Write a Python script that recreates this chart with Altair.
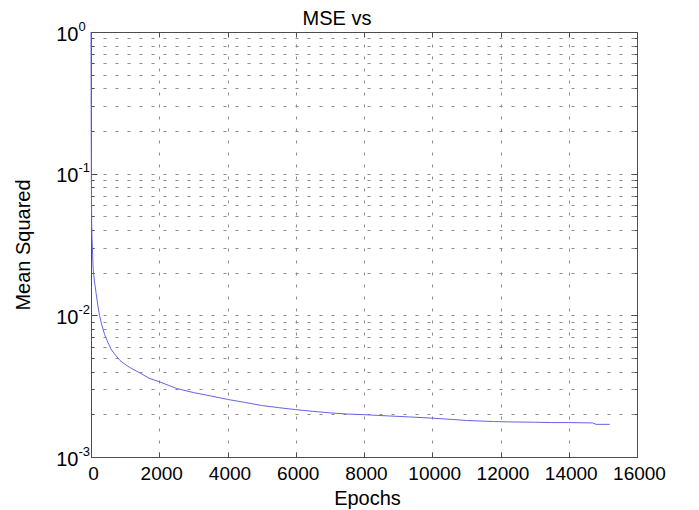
import altair as alt
import pandas as pd

# ---- data ----
epochs = [0, 3, 6, 10, 15, 20, 30, 45, 65, 100, 150, 200, 250, 320, 400, 500, 600, 700,
          850, 1000, 1200, 1450, 1700, 2000, 2500, 3000, 3500, 4000, 4500, 5000, 5500,
          6000, 6500, 7000, 7500, 8000, 8700, 9300, 10000, 10600, 11000, 11800, 12200,
          13000, 13500, 14000, 14700, 14800, 15200]
mse = [1.0, 0.45, 0.2, 0.1, 0.065, 0.045, 0.035, 0.028, 0.021, 0.0175, 0.0143, 0.0118,
       0.0100, 0.0085, 0.0073, 0.0064, 0.0057, 0.0053, 0.0048, 0.0045, 0.0042, 0.0039,
       0.0036, 0.0034, 0.00305, 0.00285, 0.0027, 0.00255, 0.00243, 0.00231, 0.00223,
       0.00216, 0.0021, 0.00205, 0.00201, 0.00199, 0.00195, 0.00192, 0.00188, 0.00184,
       0.00181, 0.00178, 0.00177, 0.00176, 0.00175, 0.00175, 0.00174, 0.0017, 0.0017]

x_ticks = [0, 2000, 4000, 6000, 8000, 10000, 12000, 14000, 16000]
y_decades = [0.001, 0.01, 0.1, 1]
y_all = [0.001, 0.002, 0.003, 0.004, 0.005, 0.006, 0.007, 0.008, 0.009,
         0.01, 0.02, 0.03, 0.04, 0.05, 0.06, 0.07, 0.08, 0.09,
         0.1, 0.2, 0.3, 0.4, 0.5, 0.6, 0.7, 0.8, 0.9, 1]

df = pd.DataFrame({"epoch": epochs, "mse": mse})

FONT = "Liberation Sans"
W, H = 546, 425
AX = "#4d4d4d"
GRID = "#8a8a8a"

xs = alt.Scale(domain=[0, 16000], nice=False, zero=False)
ys = alt.Scale(type="log", domain=[0.001, 1], nice=False)

base = alt.Chart(df)


def layer(x_axis, y_axis, visible=False):
    m = base.mark_line(color="#6464e6", strokeWidth=1,
                       opacity=1 if visible else 0)
    return m.encode(
        x=alt.X("epoch:Q", scale=xs, axis=x_axis),
        y=alt.Y("mse:Q", scale=ys, axis=y_axis),
    )


is_decade = "abs(log(datum.value)/LN10 - round(log(datum.value)/LN10)) < 1e-6"

main = layer(
    alt.Axis(orient="bottom", values=x_ticks, title="Epochs", grid=True,
             gridDash=[3, 9], gridColor=GRID, gridWidth=1, ticks=False,
             domainColor=AX, labelFont=FONT, labelFontSize=19, labelColor="black",
             labelPadding=7, labelFlush=False, labelOffset=2, labelOverlap=False,
             format="d",
             titleFont=FONT, titleFontSize=20, titleFontWeight="normal",
             titleColor="black", titleBaseline="alphabetic", titleX=W / 2 + 3,
             titleY=47, titleAnchor="middle"),
    alt.Axis(orient="left", values=y_all, title="Mean Squared", grid=True,
             gridDash=[3, 9], gridColor=GRID, gridWidth=1, ticks=False,
             domainColor=AX, labelFont=FONT, labelFontSize=20, labelColor="black",
             labelPadding=13, labelOverlap=False, labelBaseline="middle",
             labelOffset=2, labelExpr=f"({is_decade}) ? '10' : ''",
             titleFont=FONT, titleFontSize=20, titleFontWeight="normal",
             titleColor="black", titleBaseline="alphabetic", titleAngle=-90,
             titleX=-62, titleY=H / 2, titleAnchor="middle"),
    visible=True,
)

expo = layer(
    None,
    alt.Axis(orient="left", values=y_decades, title=None, grid=False, ticks=False,
             domain=False, labelFont=FONT, labelFontSize=13, labelColor="black",
             labelAlign="left", labelPadding=13, labelBaseline="middle",
             labelOffset=-6, labelOverlap=False,
             labelExpr="'' + round(log(datum.value)/LN10)"),
)

def tick_x(orient):
    return alt.Axis(orient=orient, offset=-H, values=x_ticks, title=None,
                    labels=False, grid=False, ticks=True, tickSize=5,
                    tickColor=AX, domainColor=AX)


def tick_y(orient, values, size):
    return alt.Axis(orient=orient, offset=-W, values=values, title=None,
                    labels=False, grid=False, ticks=True, tickSize=size,
                    tickColor=AX, domainColor=AX)


t1 = layer(tick_x("top"), tick_y("right", y_all, 3))
t2 = layer(tick_x("bottom"), tick_y("left", y_all, 3))
t3 = layer(None, tick_y("right", y_decades, 6))
t4 = layer(None, tick_y("left", y_decades, 6))

chart = (
    alt.layer(main, expo, t1, t2, t3, t4)
    .resolve_axis(x="independent", y="independent")
    .properties(
        width=W, height=H,
        autosize=alt.AutoSizeParams(type="none"),
        padding={"left": 91, "top": 32, "right": 62, "bottom": 53},
        title=alt.TitleParams("MSE vs", font=FONT, fontSize=20, fontWeight="normal",
                              color="black", anchor="middle", dx=-27, offset=-25,
                              baseline="alphabetic"),
        background="white",
    )
    .configure_view(strokeWidth=0)
)

chart.save("out.html", embed_options={"renderer": "svg", "actions": False})
